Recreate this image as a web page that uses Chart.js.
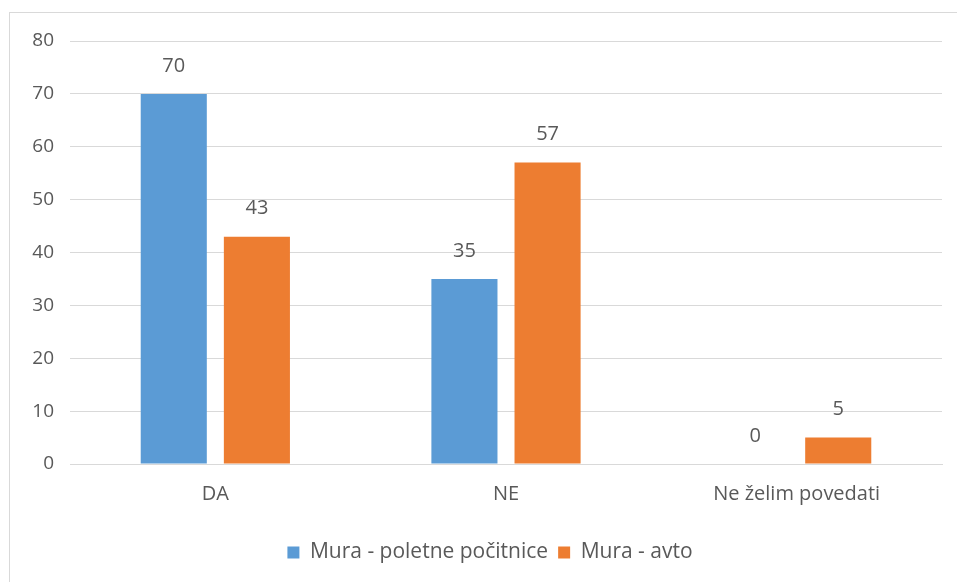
<!DOCTYPE html>
<html>
<head>
<meta charset="utf-8">
<script src="https://cdn.jsdelivr.net/npm/chart.js@4"></script>
<style>
html,body{margin:0;padding:0;background:#fff;}
#wrap{position:absolute;left:0;top:0;width:957px;height:582px;}
#frame{position:absolute;left:9px;top:12px;width:960px;height:580px;border:1px solid #d9d9d9;box-sizing:border-box;}
canvas{position:absolute;left:0;top:0;}
</style>
</head>
<body>
<div id="wrap">
<div id="frame"></div>
<canvas id="c" width="957" height="582"></canvas>
</div>
<script>
const categories = ["DA", "NE", "Ne želim povedati"];
const seriesNames = ["Mura - poletne počitnice", "Mura - avto"];
const poletne = [70, 35, 0];
const avto = [43, 57, 5];
const yTicks = [0, 10, 20, 30, 40, 50, 60, 70, 80];

const FONT = "'Open Sans', 'Noto Sans', sans-serif";
const TXT = '#595959';
const FS = 20;

const labelPlugin = {
  id: 'labels',
  afterLayout(chart) {
    if (chart.legend) { chart.legend.left += 19; chart.legend.right += 19; }
  },
  afterDatasetsDraw(chart) {
    const ctx = chart.ctx;
    ctx.save();
    ctx.font = FS + 'px ' + FONT;
    ctx.fillStyle = TXT;
    ctx.textAlign = 'center';
    ctx.textBaseline = 'middle';
    chart.data.datasets.forEach((ds, i) => {
      const meta = chart.getDatasetMeta(i);
      meta.data.forEach((el, j) => {
        ctx.fillText(String(ds.data[j]), el.x, el.y - 28);
      });
    });
    ctx.restore();
  }
};

new Chart(document.getElementById('c'), {
  type: 'bar',
  data: {
    labels: categories,
    datasets: [
      { label: seriesNames[0], data: poletne, backgroundColor: '#5b9bd5', categoryPercentage: 0.572, barPercentage: 0.795 },
      { label: seriesNames[1], data: avto, backgroundColor: '#ed7d31', categoryPercentage: 0.572, barPercentage: 0.795 }
    ]
  },
  options: {
    responsive: false,
    animation: false,
    layout: { padding: { left: 0, right: 15, top: 41, bottom: 9 } },
    plugins: {
      legend: {
        position: 'bottom',
        labels: { font: { family: FONT, size: 21 }, color: TXT, boxWidth: 12, boxHeight: 12, padding: 10 }
      },
      tooltip: { enabled: false }
    },
    scales: {
      x: {
        grid: { display: false, drawTicks: false },
        border: { color: '#d9d9d9' },
        ticks: { font: { family: FONT, size: FS }, color: TXT, padding: 18 },
        afterFit(s) { s.height = 68; }
      },
      y: {
        min: 0, max: 80,
        afterBuildTicks(s) { s.ticks = yTicks.map(v => ({ value: v })); },
        grid: { color: '#d9d9d9', drawTicks: false },
        border: { display: false },
        ticks: { font: { family: FONT, size: 19 }, color: TXT, padding: 16 },
        afterFit(s) { s.width = 70; }
      }
    }
  },
  plugins: [labelPlugin]
});
</script>
</body>
</html>
